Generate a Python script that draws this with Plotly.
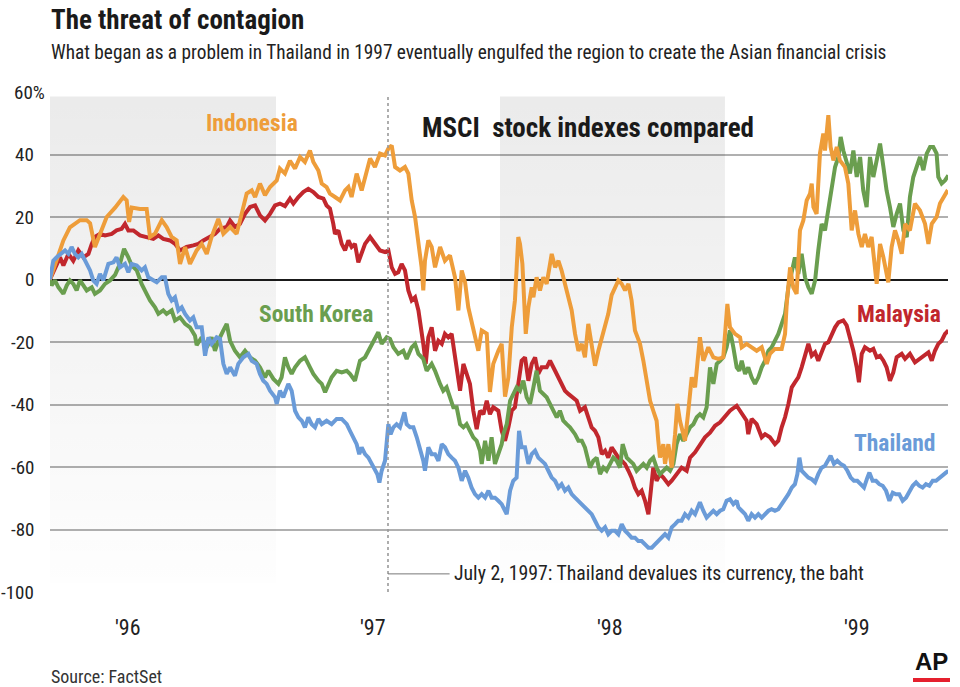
import plotly.graph_objects as go

FONT = "Liberation Sans Narrow, Roboto Condensed, DejaVu Sans Condensed, Liberation Sans, sans-serif"

# (months since Jan 1 1996, % change)
indonesia = [(-0.11,0),(0.61,12.5),(0.96,16.7),(1.23,18),(1.5,19),(1.86,19),(2.04,18),(2.30,10.4),(2.57,14.7),(2.93,20),(3.38,23),(3.82,26.4),(4.0,25.3),(4.13,18.4),(4.27,23),(4.71,22.6),(5.07,22.6),(5.25,13.6),(5.52,14.7),(5.88,19),(6.14,16.8),(6.41,13.6),(6.68,12.5),(6.86,5),(7.13,10.4),(7.39,5),(7.75,9.3),(8.02,11.4),(8.29,8.2),(8.55,13.6),(8.91,19.4),(9.18,14.6),(9.54,16.8),(9.89,14.6),(10.16,21),(10.43,27.5),(10.70,28.5),(10.88,26.4),(11.14,30.7),(11.41,27),(11.68,29.6),(12.04,31.7),(12.21,35.5),(12.48,33.9),(12.75,38),(13.02,35.5),(13.29,39.2),(13.55,37.6),(13.82,41.3),(14.0,37.6),(14.27,34.9),(14.45,30.7),(14.71,29.6),(14.89,27.5),(15.16,26.4),(15.43,25.3),(15.70,28.5),(15.88,29.6),(16.05,26.4),(16.32,33.9),(16.59,28.5),(16.86,34.9),(17.04,38.7),(17.30,36),(17.57,40.3),(17.84,39.7),(18.02,41.9),(18.20,42.9),(18.38,36),(18.64,34.9),(18.91,36),(19.09,33.9),(19.27,25.3),(19.45,20),(19.63,12.5),(19.80,3.9),(19.89,-3.5),(19.98,6),(20.16,12.5),(20.34,10.4),(20.52,3.9),(20.79,10.4),(21.05,6),(21.32,7.7),(21.59,0.7),(21.77,-9.9),(21.95,2.9),(22.13,-0.9),(22.30,-8.9),(22.57,-16.3),(22.84,-22.8),(23.02,-16.3),(23.29,-17.3),(23.46,-36),(23.64,-27),(23.91,-22.8),(24.09,-20.6),(24.27,-37.5),(24.45,-31.3),(24.63,-15.3),(24.80,-6.7),(24.98,13.6),(25.07,11.4),(25.20,5),(25.38,-17.4),(25.52,-8.9),(25.70,-2.5),(25.79,-5.7),(25.96,0.7),(26.14,-3.5),(26.32,0.7),(26.5,-1.4),(26.77,8.2),(26.95,3.9),(27.13,6),(27.30,2.9),(27.57,-3.5),(27.84,-9.9),(28.02,-17.4),(28.20,-22.8),(28.38,-20.6),(28.55,-24.9),(28.73,-14.2),(28.91,-20.6),(29.09,-27.6),(29.27,-22.8),(29.54,-16.3),(29.80,-11),(29.98,-5),(30.34,-0.3),(30.52,-1.4),(30.70,-3.5),(30.88,-1.4),(31.05,-6.7),(31.23,-16.3),(31.5,-20.6),(31.68,-26),(31.86,-33.4),(32.04,-38.8),(32.21,-42),(32.39,-45.2),(32.48,-51.6),(32.57,-57),(32.75,-52.7),(32.84,-59),(33.02,-52.7),(33.20,-60.2),(33.38,-49.5),(33.5,-39.8),(33.64,-45.2),(33.91,-51.6),(34.09,-42),(34.27,-31.3),(34.45,-34.5),(34.71,-18.5),(34.89,-26),(35.16,-21.7),(35.43,-24.9),(35.70,-25.4),(35.96,-24.9),(36.05,-16.3),(36.18,-7.8),(36.32,-15.3),(36.59,-17.4),(36.86,-18.5),(36.95,-21.7),(37.21,-20.6),(37.48,-21.7),(37.75,-22.8),(38.02,-21.7),(38.29,-27),(38.46,-23.8),(38.73,-22.2),(39.09,-22.2),(39.27,-17.4),(39.36,-7.8),(39.54,3.9),(39.71,-2.5),(39.89,-4.6),(40.07,15.7),(40.25,18.9),(40.43,25.3),(40.61,27.5),(40.70,30.7),(40.79,23.2),(40.96,21),(41.14,40.3),(41.32,46.7),(41.41,41.3),(41.59,52.6),(41.71,42.4),(41.86,38.1),(42.04,42.4),(42.21,38.1),(42.48,36),(42.66,30.7),(42.84,15.7),(43.02,22.1),(43.20,14.6),(43.38,10.4),(43.55,14.6),(43.73,10.4),(43.91,13.6),(44.18,-1.4),(44.36,11.4),(44.54,7.1),(44.80,-0.9),(44.98,10.4),(45.16,15.7),(45.34,12.5),(45.52,8.2),(45.70,17.8),(45.96,15.7),(46.23,24.3),(46.5,22.1),(46.77,17.8),(46.95,11.4),(47.13,17.8),(47.39,20),(47.57,24.3),(47.75,26.4),(47.93,28),(48.02,27.5)]

malaysia = [(-0.11,0),(0.16,3.9),(0.43,7.1),(0.61,4.5),(0.88,8.2),(1.14,6),(1.41,9.3),(1.68,7.1),(1.95,8.2),(2.13,11.4),(2.30,13.6),(2.57,14.6),(2.84,14.1),(3.20,14.6),(3.46,15.7),(3.73,16.2),(3.91,17.8),(4.09,15.7),(4.36,15.7),(4.71,14.1),(5.07,13.6),(5.43,13),(5.70,14.1),(5.96,13),(6.32,12.5),(6.59,11.4),(6.86,9.3),(7.21,10.4),(7.57,10.9),(7.84,11.4),(8.11,12.5),(8.46,13.6),(8.73,14.6),(9.0,16.2),(9.36,16.8),(9.54,18.9),(9.80,16.8),(10.07,17.8),(10.34,21),(10.61,23.2),(10.88,23.7),(11.14,20.5),(11.41,18.9),(11.68,21),(11.95,23.7),(12.21,24.3),(12.48,23.5),(12.75,25.9),(12.93,24.3),(13.20,26.4),(13.46,28),(13.73,29),(14.0,28),(14.27,26.4),(14.54,25.9),(14.71,23.7),(14.89,22.7),(15.07,17.8),(15.16,14.6),(15.34,15.7),(15.52,11.4),(15.70,9.3),(15.88,12.5),(16.05,10.4),(16.23,11.4),(16.41,5.5),(16.59,8.2),(16.77,11.4),(17.04,13.6),(17.30,11.4),(17.57,9.3),(17.84,8.8),(18.02,9.3),(18.20,3.9),(18.38,1.8),(18.55,2.3),(18.73,5),(18.91,2.9),(19.09,-3.5),(19.27,-6.7),(19.45,-5.7),(19.63,-9.9),(19.80,-16.3),(19.89,-20.6),(20.02,-27),(20.16,-18.5),(20.34,-15.3),(20.52,-22.8),(20.70,-19.6),(20.88,-20.6),(21.05,-17.4),(21.23,-18.5),(21.41,-17.4),(21.59,-24.9),(21.86,-35.6),(22.04,-27),(22.21,-30.2),(22.39,-33.4),(22.57,-42),(22.75,-47.9),(22.93,-42),(23.11,-43.1),(23.29,-38.8),(23.46,-43.1),(23.64,-40.9),(23.91,-42),(24.09,-48.4),(24.27,-51.6),(24.45,-47.3),(24.63,-42),(24.80,-40.9),(24.98,-33.4),(25.16,-26),(25.34,-24.9),(25.52,-32.4),(25.70,-27),(25.88,-24.9),(26.05,-30.2),(26.23,-28.1),(26.5,-28.1),(26.68,-26),(26.95,-29.2),(27.13,-31.3),(27.30,-33.4),(27.48,-35.6),(27.66,-36.6),(27.93,-37.7),(28.11,-38.8),(28.29,-42),(28.55,-40.9),(28.73,-44.1),(28.91,-47.3),(29.09,-48.4),(29.27,-50.5),(29.45,-55.9),(29.63,-54.8),(29.80,-57),(29.98,-53.7),(30.16,-55.3),(30.34,-57),(30.52,-58),(30.70,-59.1),(30.88,-61.2),(31.05,-63.4),(31.23,-66.6),(31.41,-68.7),(31.59,-67.6),(31.77,-70.8),(31.95,-75.1),(32.07,-68.7),(32.21,-60.2),(32.39,-64.4),(32.57,-62.3),(32.75,-63.4),(33.02,-65.5),(33.20,-64.4),(33.46,-62.3),(33.73,-60.2),(34.0,-61.2),(34.18,-57),(34.45,-55.3),(34.71,-52.7),(34.98,-50.5),(35.25,-49),(35.52,-46.8),(35.79,-45.7),(36.05,-43.9),(36.32,-42),(36.68,-40.4),(36.95,-43.1),(37.21,-45.2),(37.30,-49.5),(37.48,-44.6),(37.75,-46.3),(38.02,-50.5),(38.20,-49.5),(38.46,-50.5),(38.73,-52.7),(38.91,-51.6),(39.09,-47.3),(39.27,-44.1),(39.45,-39.8),(39.63,-34.5),(39.80,-32.9),(39.98,-31.3),(40.16,-28.1),(40.34,-23.8),(40.52,-20.6),(40.70,-24.4),(40.88,-23.3),(41.05,-26),(41.23,-22.8),(41.41,-20.6),(41.59,-20.1),(41.77,-17.4),(41.95,-15.3),(42.13,-13.7),(42.39,-13.1),(42.57,-14.7),(42.75,-18.5),(42.93,-22.8),(43.11,-28.1),(43.23,-32.9),(43.38,-23.8),(43.55,-21.7),(43.82,-22.8),(44.0,-22.2),(44.18,-24.9),(44.36,-24.4),(44.54,-26),(44.71,-28.1),(44.89,-32.4),(45.07,-29.7),(45.25,-24.9),(45.52,-23.8),(45.70,-25.4),(45.96,-23.8),(46.23,-26.5),(46.5,-25.4),(46.77,-24.4),(46.95,-23.3),(47.13,-26),(47.30,-22.8),(47.48,-20.6),(47.66,-19.6),(47.84,-17.4),(48.02,-16.3)]

south_korea = [(-0.11,0),(-0.02,-1.9),(0.16,-0.3),(0.34,-2.5),(0.61,-4.6),(0.79,-1.9),(0.96,-0.3),(1.14,-1.4),(1.32,-3.5),(1.5,-0.3),(1.68,-1.9),(1.86,-3.5),(2.13,-2.5),(2.30,-4.6),(2.57,-3.5),(2.84,-1.4),(3.11,-0.3),(3.38,1.5),(3.64,5),(3.86,9.8),(4.09,7.1),(4.27,4.5),(4.54,2.9),(4.80,-1.4),(5.07,-4.6),(5.25,-6.7),(5.52,-8.9),(5.70,-11),(5.96,-9.9),(6.14,-11),(6.41,-9.9),(6.59,-13.1),(6.86,-12.1),(7.13,-14.2),(7.39,-15.3),(7.66,-18),(7.75,-21),(8.02,-18.5),(8.29,-21.7),(8.55,-18.5),(8.73,-22.8),(8.91,-19.6),(9.18,-16.3),(9.36,-14.2),(9.54,-19.6),(9.80,-22.8),(10.07,-24.9),(10.34,-22.8),(10.61,-24.9),(10.88,-26),(11.14,-28.1),(11.41,-31.3),(11.59,-29.2),(11.86,-31.8),(12.13,-33.4),(12.30,-31.3),(12.48,-24.9),(12.66,-28.1),(12.84,-30.2),(13.02,-28.1),(13.29,-26),(13.55,-24.9),(13.82,-28.1),(14.0,-30.2),(14.27,-32.4),(14.45,-33.4),(14.63,-36.1),(14.80,-33.4),(14.98,-31.3),(15.25,-29.2),(15.52,-29.7),(15.79,-29.2),(15.96,-30.2),(16.23,-32.4),(16.5,-26),(16.77,-24.9),(17.04,-21.7),(17.30,-18.5),(17.48,-16.9),(17.66,-20.6),(17.93,-18.5),(18.11,-19),(18.29,-21.7),(18.55,-23.8),(18.82,-22.8),(19.0,-25.4),(19.27,-21.7),(19.45,-20.6),(19.63,-23.8),(19.89,-25.4),(20.07,-29.2),(20.34,-27),(20.52,-29.2),(20.79,-33.4),(20.96,-35.6),(21.14,-34.5),(21.32,-37.7),(21.5,-40.9),(21.68,-40.9),(21.86,-46.3),(22.04,-47.3),(22.21,-46.3),(22.39,-48.4),(22.57,-50.5),(22.75,-51.6),(22.93,-54.8),(23.02,-59),(23.20,-51.6),(23.38,-58),(23.55,-50.5),(23.73,-59),(23.91,-55.9),(24.09,-52.7),(24.18,-49.5),(24.36,-46.3),(24.54,-38.8),(24.71,-36.6),(24.89,-34.5),(25.07,-35.6),(25.25,-32.4),(25.43,-37.7),(25.61,-39.8),(25.79,-34.5),(25.96,-29.2),(26.14,-35.6),(26.32,-36.6),(26.5,-37.7),(26.77,-40.9),(27.04,-44.1),(27.21,-42),(27.39,-45.2),(27.57,-46.3),(27.75,-47.3),(28.02,-49.5),(28.20,-51.6),(28.38,-51.6),(28.55,-53.7),(28.73,-58),(28.82,-60.2),(29.0,-58),(29.18,-57),(29.36,-62.3),(29.54,-60.2),(29.71,-61.2),(29.89,-59),(30.07,-57),(30.25,-58),(30.43,-60.2),(30.57,-52.7),(30.79,-57),(30.96,-58),(31.14,-59),(31.32,-61.2),(31.5,-60.2),(31.68,-59),(31.86,-60.2),(32.04,-58),(32.21,-57),(32.39,-60.2),(32.57,-62.3),(32.75,-61.2),(32.93,-60.2),(33.11,-61.2),(33.29,-59),(33.46,-52.7),(33.64,-49.5),(33.82,-51.6),(34.0,-49.5),(34.18,-47.3),(34.36,-46.3),(34.54,-44.1),(34.71,-43.1),(34.89,-44.1),(35.07,-40.9),(35.25,-28.1),(35.43,-33.4),(35.61,-27),(35.79,-26),(35.96,-24.9),(36.14,-21.7),(36.32,-16.3),(36.5,-21.7),(36.68,-28.1),(36.82,-29.2),(36.95,-26),(37.13,-30.2),(37.30,-28.1),(37.48,-31.3),(37.66,-33.4),(37.84,-31.3),(38.02,-28.1),(38.20,-26),(38.38,-22.8),(38.55,-21.7),(38.73,-19.6),(38.91,-17.4),(39.09,-14.2),(39.27,-11),(39.45,-2.5),(39.63,2.9),(39.80,7.1),(39.98,1.8),(40.16,8.2),(40.34,0.7),(40.52,-2.5),(40.70,-4.6),(40.88,-0.3),(41.05,9.3),(41.23,17.8),(41.41,15.7),(41.59,23.2),(41.77,28.5),(41.95,36),(42.13,39.2),(42.25,45.6),(42.39,41.3),(42.57,37),(42.75,33.9),(42.93,41.3),(43.11,32.8),(43.29,39.2),(43.46,28.5),(43.64,23.2),(43.82,39.2),(44.0,32.8),(44.18,38.1),(44.36,43.5),(44.54,36),(44.71,28.5),(44.89,23.2),(45.07,16.8),(45.25,21),(45.43,24.3),(45.61,15.7),(45.79,13.6),(45.96,26.4),(46.14,32.8),(46.32,36),(46.5,39.2),(46.68,35),(46.86,40.3),(47.04,42.4),(47.21,42.4),(47.39,40.3),(47.48,32.8),(47.66,30.7),(47.84,31.7),(48.02,33.3)]

thailand = [(-0.11,0),(0.07,6),(0.25,7.1),(0.52,8.2),(0.70,9.3),(0.88,8.2),(1.05,10.4),(1.23,8.2),(1.41,7.1),(1.59,8.2),(1.77,6),(2.04,2.9),(2.21,-0.3),(2.39,-1.4),(2.57,1.8),(2.75,-0.3),(3.02,5),(3.29,5.5),(3.46,7.1),(3.64,3.9),(3.91,5),(4.09,2.3),(4.27,5),(4.54,4.5),(4.80,2.9),(4.98,3.9),(5.16,0.7),(5.43,-0.3),(5.61,-0.9),(5.88,0.7),(6.05,0.7),(6.23,-4.6),(6.41,-6.7),(6.59,-5.7),(6.77,-9.9),(6.95,-8.9),(7.13,-11),(7.39,-13.1),(7.57,-12.1),(7.75,-15.3),(8.02,-15.3),(8.20,-24.4),(8.38,-18.5),(8.55,-20.6),(8.82,-18.5),(9.0,-19),(9.18,-27),(9.36,-30.2),(9.54,-28.1),(9.80,-30.8),(9.98,-27),(10.25,-24.9),(10.52,-23.8),(10.70,-26),(10.96,-27),(11.14,-30.2),(11.32,-32.4),(11.50,-33.4),(11.68,-35.6),(11.95,-37.7),(12.04,-39.8),(12.21,-35.6),(12.39,-37.7),(12.66,-33.4),(12.84,-35.6),(13.02,-42),(13.20,-44.1),(13.38,-45.2),(13.55,-47.3),(13.73,-44.1),(13.91,-46.3),(14.09,-47.3),(14.27,-44.6),(14.45,-46.3),(14.71,-45.2),(14.98,-46.3),(15.25,-44.6),(15.52,-44.6),(15.79,-46.3),(15.96,-48.4),(16.14,-50.5),(16.32,-52.7),(16.46,-55.9),(16.59,-53.7),(16.77,-55.9),(16.95,-57),(17.13,-59),(17.30,-61.2),(17.43,-62.3),(17.54,-65),(17.66,-61.2),(17.84,-58),(17.93,-52.7),(18.02,-46.3),(18.14,-49.5),(18.29,-47.3),(18.46,-46.3),(18.64,-47.3),(18.88,-42.5),(19.0,-46.3),(19.18,-47.3),(19.36,-47.3),(19.54,-50.5),(19.71,-53.7),(19.89,-58),(19.98,-61.2),(20.16,-53.7),(20.34,-55.9),(20.52,-55.9),(20.70,-58),(20.88,-52.7),(21.05,-53.7),(21.23,-55.9),(21.41,-57),(21.59,-58),(21.77,-60.2),(21.95,-64.4),(22.13,-61.2),(22.30,-63.4),(22.48,-66.6),(22.66,-68.7),(22.84,-69.8),(23.02,-68.7),(23.20,-69.8),(23.38,-67.6),(23.55,-69.8),(23.73,-69.8),(23.91,-70.8),(24.09,-71.9),(24.36,-75.1),(24.54,-67.6),(24.71,-64.4),(24.89,-63.4),(25.02,-48.4),(25.16,-53.7),(25.34,-53.7),(25.52,-59),(25.70,-55.9),(25.88,-54.8),(26.05,-57),(26.23,-58),(26.41,-59),(26.59,-61.2),(26.77,-63.4),(26.95,-64.4),(27.13,-66.6),(27.30,-65.5),(27.48,-67.6),(27.66,-66.6),(27.84,-68.7),(28.02,-69.8),(28.20,-70.8),(28.38,-71.9),(28.55,-72.9),(28.73,-74),(28.91,-75.1),(29.09,-77.2),(29.27,-79.3),(29.45,-80.4),(29.63,-79.3),(29.80,-81.5),(29.98,-80.4),(30.16,-80.4),(30.34,-81.5),(30.52,-78.3),(30.70,-80.4),(30.88,-81.5),(31.05,-82.6),(31.23,-82.6),(31.41,-83.7),(31.59,-83.7),(31.77,-84.7),(31.95,-85.8),(32.13,-85.8),(32.30,-84.7),(32.48,-83.7),(32.66,-82.6),(32.84,-81.5),(33.02,-82.6),(33.20,-79.3),(33.38,-78.3),(33.55,-77.2),(33.73,-77.2),(33.91,-75.1),(34.09,-76.2),(34.27,-74),(34.45,-75.1),(34.63,-72.9),(34.71,-71.3),(34.89,-74),(35.07,-76.2),(35.25,-75.1),(35.43,-74),(35.61,-75.1),(35.79,-74),(35.96,-73.5),(36.14,-70.8),(36.32,-70.3),(36.5,-71.9),(36.68,-70.8),(36.77,-72.9),(36.95,-74),(37.13,-75.1),(37.30,-77.2),(37.48,-75.1),(37.66,-76.2),(37.84,-75.1),(38.02,-76.2),(38.20,-75.1),(38.38,-74),(38.55,-73.5),(38.73,-74),(38.91,-73.5),(39.09,-71.9),(39.27,-70.8),(39.45,-68.7),(39.63,-66.6),(39.80,-65.5),(39.93,-62.3),(40.04,-57),(40.16,-61.2),(40.34,-62.3),(40.52,-63.4),(40.70,-63.9),(40.88,-64.9),(41.05,-62.3),(41.23,-60.2),(41.41,-59.6),(41.59,-58),(41.71,-56.4),(41.89,-59),(42.07,-58),(42.25,-59),(42.43,-59.6),(42.61,-61.2),(42.79,-63.4),(42.96,-64.4),(43.14,-64.4),(43.32,-65.5),(43.5,-66.6),(43.68,-63.4),(43.79,-61.8),(43.96,-64.4),(44.14,-64.4),(44.32,-65.5),(44.5,-66),(44.68,-67.6),(44.86,-70.8),(45.04,-68.2),(45.21,-68.7),(45.39,-68.7),(45.57,-70.8),(45.75,-69.8),(45.93,-67.6),(46.11,-66),(46.29,-64.9),(46.46,-66),(46.64,-66.6),(46.82,-65.5),(47.0,-66),(47.18,-64.4),(47.36,-64.4),(47.54,-63.4),(47.71,-62.8),(47.89,-61.8),(48.02,-61.2)]

y_ticks = [60, 40, 20, 0, -20, -40, -60, -80, -100]
y_tick_text = ["60%", "40", "20", "0", "-20", "-40", "-60", "-80", "-100"]
x_tick_months = [4.07, 17.2, 29.9, 43.1]
x_tick_text = ["'96", "'97", "'98", "'99"]
shaded_spans = [(-0.11, 12.0), (24.0, 36.05)]
event_month = 18.0  # July 2, 1997

W, H = 960, 687
ML, MR, MT, MB = 50, 12, 92, 95
PW, PH = W - ML - MR, H - MT - MB


def fx(p):
    return (p - ML) / PW


def fy(p):
    return (H - MB - p) / PH


fig = go.Figure()

for x0, x1 in shaded_spans:
    fig.add_trace(go.Scatter(
        x=[x0, x1, x1, x0, x0], y=[-97, -97, 58.6, 58.6, -97],
        mode="none", fill="toself",
        fillgradient=dict(type="vertical",
                          colorscale=[[0, "rgba(0,0,0,0.005)"], [1, "rgba(0,0,0,0.08)"]]),
        hoverinfo="skip", showlegend=False))

series = [
    ("Malaysia", malaysia, "#C1272D"),
    ("South Korea", south_korea, "#6A9E4F"),
    ("Indonesia", indonesia, "#EE9D3A"),
    ("Thailand", thailand, "#6A9BD8"),
]
for name, data, color in series:
    fig.add_trace(go.Scatter(
        x=[p[0] for p in data], y=[p[1] for p in data], mode="lines",
        line=dict(color=color, width=4), name=name, showlegend=False))

ann = []
# y tick labels
for v, t in zip(y_ticks, y_tick_text):
    ann.append(dict(xref="paper", yref="y", x=fx(47 if t.endswith("%") else 36), y=v,
                    text=t, showarrow=False, xanchor="right", yanchor="middle",
                    font=dict(family=FONT, size=19, color="#222")))
# x tick labels
for m, t in zip(x_tick_months, x_tick_text):
    ann.append(dict(xref="x", yref="paper", x=m, y=fy(627), text=t, showarrow=False,
                    xanchor="center", yanchor="middle",
                    font=dict(family=FONT, size=22, color="#222")))
# titles
ann.append(dict(xref="paper", yref="paper", x=fx(49), y=fy(20), text="<b>The threat of contagion</b>",
                showarrow=False, xanchor="left", yanchor="middle",
                font=dict(family=FONT, size=27, color="#1a1a1a")))
ann.append(dict(xref="paper", yref="paper", x=fx(49), y=fy(53),
                text="What began as a problem in Thailand in 1997 eventually engulfed the region to create the Asian financial crisis",
                showarrow=False, xanchor="left", yanchor="middle",
                font=dict(family=FONT, size=19.3, color="#222")))
ann.append(dict(xref="x", yref="y", x=28.71, y=48.4, text="<b>MSCI\u00a0 stock indexes compared</b>",
                showarrow=False, xanchor="center", yanchor="middle",
                font=dict(family=FONT, size=27, color="#1a1a1a")))
# series labels
labels = [
    ("Indonesia", 10.71, 50.0, "center", "#EE9D3A"),
    ("South Korea", 14.14, -10.9, "center", "#6A9E4F"),
    ("Malaysia", 47.73, -10.9, "right", "#C1272D"),
    ("Thailand", 47.46, -52.2, "right", "#6A9BD8"),
]
for t, m, v, anc, c in labels:
    ann.append(dict(xref="x", yref="y", x=m, y=v, text="<b>%s</b>" % t, showarrow=False,
                    xanchor=anc, yanchor="middle", font=dict(family=FONT, size=23.5, color=c)))
# event annotation
ann.append(dict(xref="x", yref="y", x=21.45, y=-94.2,
                text="July 2, 1997: Thailand devalues its currency, the baht",
                showarrow=False, xanchor="left", yanchor="middle",
                font=dict(family=FONT, size=19.8, color="#222")))
ann.append(dict(xref="paper", yref="paper", x=fx(49), y=fy(676), text="Source: FactSet",
                showarrow=False, xanchor="left", yanchor="middle",
                font=dict(family=FONT, size=18, color="#333")))
ann.append(dict(xref="paper", yref="paper", x=fx(950), y=fy(661), text="<b>AP</b>",
                showarrow=False, xanchor="right", yanchor="middle",
                font=dict(family="Liberation Sans, Arial, sans-serif", size=24, color="#111")))

shapes = [
    dict(type="line", xref="x", yref="y", x0=event_month, x1=event_month, y0=-100, y1=59.3,
         line=dict(color="#9a9a9a", width=1.6, dash="dot"), layer="above"),
    dict(type="line", xref="x", yref="y", x0=event_month, x1=21.3, y0=-94.2, y1=-94.2,
         line=dict(color="#777", width=1)),
    dict(type="rect", xref="paper", yref="paper", x0=fx(913), x1=fx(950), y0=fy(682), y1=fy(678),
         fillcolor="#E5202E", line=dict(width=0)),
]

fig.update_layout(
    width=W, height=H, margin=dict(l=ML, r=MR, t=MT, b=MB),
    paper_bgcolor="white", plot_bgcolor="white", showlegend=False,
    xaxis=dict(range=[-0.107, 48.0], showgrid=False, zeroline=False, showticklabels=False,
               ticks="", showline=False, fixedrange=True),
    yaxis=dict(range=[-100, 60], tickmode="array", tickvals=y_ticks, showticklabels=False,
               ticks="", showgrid=True, gridcolor="#b0b0b0", gridwidth=1.5, zeroline=True,
               zerolinecolor="#1a1a1a", zerolinewidth=1.6, showline=False, fixedrange=True),
    annotations=ann, shapes=shapes,
)

fig.write_html("out.html", config={"displayModeBar": False},
               post_script="document.body.style.margin='0';document.body.style.padding='0';")
